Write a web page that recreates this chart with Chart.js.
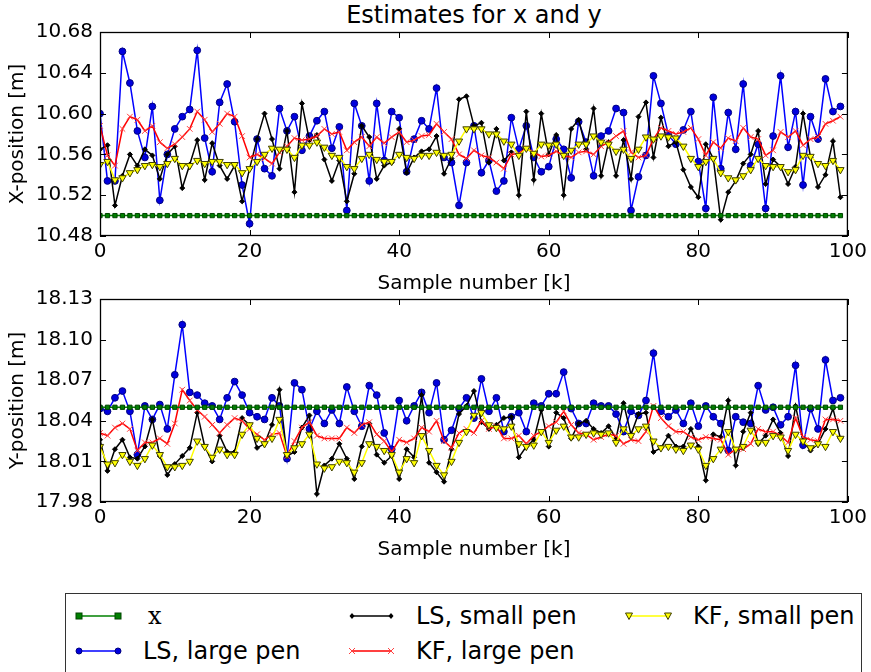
<!DOCTYPE html>
<html>
<head>
<meta charset="utf-8">
<script src="https://cdn.jsdelivr.net/npm/chart.js@4.4.0/dist/chart.umd.min.js"></script>
<style>
  body { margin: 0; background: #fff; width: 871px; height: 672px; overflow: hidden; position: relative; font-family: "DejaVu Sans", sans-serif; }
  canvas { position: absolute; left: 0; }
  #title { position: absolute; top: 3px; left: 100px; width: 748px; text-align: center; font-size: 24px; line-height: 24px; color: #000; }
  #legend { position: absolute; left: 65px; top: 593px; width: 797px; height: 100px; border: 1px solid #333; box-sizing: border-box; }
  .item { position: absolute; font-size: 24px; line-height: 24px; white-space: nowrap; }
  .item svg { position: absolute; }
</style>
</head>
<body>
<div id="title">Estimates for x and y</div>
<canvas id="chartX" width="871" height="294" style="top:0"></canvas>
<canvas id="chartY" width="871" height="290" style="top:270px"></canvas>
<div id="legend"></div>
<script>
const samples = [0,1,2,3,4,5,6,7,8,9,10,11,12,13,14,15,16,17,18,19,20,21,22,23,24,25,26,27,28,29,30,31,32,33,34,35,36,37,38,39,40,41,42,43,44,45,46,47,48,49,50,51,52,53,54,55,56,57,58,59,60,61,62,63,64,65,66,67,68,69,70,71,72,73,74,75,76,77,78,79,80,81,82,83,84,85,86,87,88,89,90,91,92,93,94,95,96,97,98,99];
const trueX = 10.50;
const trueY = 18.05;

// x estimates
const lsLargeX = [10.600,10.534,10.534,10.661,10.630,10.583,10.557,10.607,10.515,10.560,10.585,10.597,10.604,10.662,10.576,10.543,10.611,10.629,10.592,10.530,10.492,10.575,10.546,10.539,10.605,10.583,10.597,10.564,10.578,10.593,10.602,10.566,10.587,10.505,10.610,10.588,10.534,10.610,10.554,10.602,10.596,10.543,10.575,10.593,10.585,10.625,10.557,10.552,10.510,10.552,10.588,10.542,10.554,10.524,10.534,10.596,10.565,10.588,10.557,10.543,10.548,10.575,10.565,10.537,10.592,10.572,10.539,10.578,10.583,10.605,10.601,10.505,10.538,10.559,10.637,10.610,10.579,10.570,10.584,10.602,10.553,10.507,10.616,10.546,10.601,10.565,10.629,10.549,10.570,10.507,10.578,10.637,10.567,10.602,10.530,10.597,10.575,10.634,10.602,10.607];
const lsSmallX = [10.565,10.569,10.510,10.539,10.560,10.549,10.565,10.559,10.536,10.560,10.568,10.527,10.550,10.574,10.535,10.571,10.549,10.536,10.549,10.514,10.546,10.575,10.600,10.575,10.546,10.583,10.523,10.610,10.574,10.579,10.555,10.534,10.554,10.514,10.541,10.588,10.577,10.536,10.549,10.552,10.585,10.542,10.557,10.563,10.565,10.578,10.541,10.556,10.614,10.617,10.588,10.591,10.552,10.585,10.554,10.562,10.520,10.602,10.535,10.600,10.560,10.579,10.520,10.585,10.594,10.565,10.605,10.539,10.572,10.539,10.574,10.536,10.597,10.611,10.557,10.596,10.568,10.572,10.545,10.528,10.518,10.570,10.556,10.496,10.523,10.534,10.551,10.560,10.583,10.531,10.555,10.548,10.531,10.548,10.600,10.557,10.528,10.540,10.573,10.518];
const kfLargeX = [10.588,10.559,10.549,10.585,10.597,10.594,10.583,10.588,10.572,10.566,10.570,10.577,10.585,10.602,10.594,10.582,10.590,10.600,10.597,10.578,10.557,10.560,10.556,10.551,10.562,10.568,10.576,10.574,10.575,10.578,10.585,10.580,10.582,10.564,10.572,10.577,10.568,10.577,10.571,10.577,10.582,10.572,10.574,10.578,10.579,10.590,10.582,10.575,10.560,10.556,10.564,10.559,10.557,10.552,10.546,10.560,10.561,10.566,10.562,10.558,10.559,10.563,10.559,10.557,10.562,10.563,10.560,10.568,10.572,10.578,10.583,10.562,10.557,10.559,10.575,10.586,10.583,10.580,10.582,10.586,10.575,10.559,10.572,10.566,10.576,10.573,10.586,10.577,10.575,10.559,10.564,10.582,10.577,10.583,10.569,10.575,10.577,10.590,10.593,10.597];
const kfSmallX = [10.550,10.553,10.535,10.537,10.542,10.545,10.549,10.550,10.548,10.551,10.556,10.549,10.549,10.554,10.551,10.553,10.553,10.550,10.550,10.542,10.546,10.553,10.560,10.566,10.565,10.565,10.557,10.569,10.569,10.572,10.567,10.559,10.557,10.548,10.546,10.556,10.560,10.555,10.553,10.553,10.560,10.557,10.556,10.559,10.559,10.562,10.559,10.560,10.573,10.585,10.585,10.585,10.580,10.580,10.573,10.570,10.559,10.566,10.561,10.570,10.569,10.570,10.559,10.564,10.570,10.570,10.578,10.572,10.570,10.563,10.565,10.556,10.565,10.577,10.575,10.578,10.577,10.576,10.568,10.556,10.548,10.553,10.556,10.542,10.537,10.535,10.539,10.545,10.556,10.549,10.548,10.548,10.543,10.545,10.559,10.558,10.551,10.549,10.554,10.545];

// y estimates
const lsLargeY = [18.049,18.047,18.057,18.062,18.047,18.015,18.051,18.041,18.052,18.034,18.074,18.111,18.061,18.059,18.053,18.051,18.041,18.057,18.069,18.059,18.046,18.043,18.041,18.057,18.051,18.012,18.068,18.063,18.034,18.047,18.038,18.048,18.038,18.065,18.047,18.036,18.066,18.059,18.031,18.019,18.055,18.040,18.051,18.061,18.046,18.068,18.026,18.033,18.049,18.057,18.042,18.071,18.047,18.057,18.032,18.043,18.046,18.032,18.053,18.051,18.060,18.060,18.076,18.049,18.038,18.038,18.053,18.051,18.051,18.045,18.032,18.047,18.044,18.055,18.090,18.047,18.043,18.048,18.038,18.053,18.036,18.051,18.043,18.038,18.018,18.043,18.039,18.038,18.066,18.048,18.050,18.037,18.043,18.081,18.022,18.049,18.034,18.085,18.055,18.057];
const lsSmallY = [18.026,18.003,18.019,18.026,18.013,18.012,18.021,18.041,18.014,18.000,18.008,18.014,18.020,18.046,18.021,18.010,18.029,18.017,18.017,18.042,18.037,18.020,18.023,18.037,18.063,18.014,18.017,18.035,18.044,17.986,18.007,18.012,18.023,18.012,17.997,18.021,18.038,18.015,18.009,18.014,17.997,18.019,18.013,18.059,18.009,18.002,17.995,18.019,18.045,18.051,18.062,18.039,18.034,18.037,18.042,18.043,18.013,18.021,18.026,18.048,18.021,18.046,18.042,18.027,18.038,18.040,18.034,18.031,18.036,18.027,18.053,18.030,18.045,18.046,18.017,18.020,18.029,18.021,18.021,18.034,18.021,17.996,18.030,18.028,18.055,18.007,18.032,18.046,18.023,18.029,18.041,18.031,18.014,18.051,18.025,18.018,18.023,18.034,18.049,18.027];
const kfLargeY = [18.031,18.029,18.035,18.038,18.034,18.018,18.024,18.024,18.027,18.023,18.038,18.063,18.055,18.048,18.043,18.037,18.031,18.037,18.042,18.040,18.034,18.030,18.026,18.030,18.031,18.014,18.025,18.035,18.039,18.029,18.027,18.027,18.027,18.035,18.031,18.037,18.039,18.030,18.025,18.017,18.026,18.024,18.027,18.035,18.032,18.040,18.025,18.020,18.031,18.034,18.031,18.040,18.034,18.036,18.027,18.027,18.029,18.023,18.029,18.032,18.036,18.039,18.047,18.037,18.031,18.030,18.026,18.028,18.030,18.029,18.023,18.026,18.025,18.032,18.051,18.042,18.036,18.032,18.032,18.028,18.026,18.028,18.027,18.026,18.015,18.019,18.019,18.023,18.034,18.032,18.032,18.029,18.024,18.042,18.028,18.026,18.025,18.041,18.041,18.040];
const kfSmallY = [18.021,18.008,18.009,18.015,18.010,18.007,18.012,18.022,18.015,18.006,18.006,18.007,18.010,18.025,18.021,18.013,18.019,18.015,18.015,18.030,18.037,18.027,18.023,18.027,18.041,18.015,18.020,18.023,18.030,18.008,18.005,18.006,18.010,18.009,18.002,18.009,18.023,18.021,18.018,18.015,18.002,18.012,18.009,18.029,18.018,18.007,18.000,18.010,18.024,18.032,18.044,18.046,18.037,18.035,18.034,18.036,18.023,18.021,18.022,18.032,18.024,18.033,18.036,18.028,18.028,18.030,18.031,18.030,18.031,18.024,18.034,18.029,18.034,18.036,18.025,18.020,18.021,18.019,18.018,18.022,18.019,18.007,18.012,18.019,18.032,18.019,18.021,18.033,18.024,18.024,18.029,18.028,18.018,18.030,18.025,18.020,18.023,18.021,18.032,18.027];

const font = 'DejaVu Sans';

// frame with inward ticks on all four sides, like the matplotlib axes
const frame = {
  id: 'frame',
  afterDraw(chart) {
    const { ctx, chartArea: a, scales } = chart;
    ctx.save();
    ctx.strokeStyle = '#000';
    ctx.lineWidth = 1;
    ctx.beginPath();
    scales.x.ticks.forEach(t => {
      const px = Math.round(scales.x.getPixelForValue(t.value)) + 0.5;
      ctx.moveTo(px, a.top); ctx.lineTo(px, a.top + 6);
      ctx.moveTo(px, a.bottom); ctx.lineTo(px, a.bottom - 6);
    });
    scales.y.ticks.forEach(t => {
      const py = Math.round(scales.y.getPixelForValue(t.value)) + 0.5;
      ctx.moveTo(a.left, py); ctx.lineTo(a.left + 6, py);
      ctx.moveTo(a.right, py); ctx.lineTo(a.right - 6, py);
    });
    ctx.stroke();
    ctx.lineWidth = 1.3;
    ctx.strokeRect(a.left + 0.5, a.top + 0.5, a.right - a.left - 1, a.bottom - a.top - 1);
    ctx.restore();
  }
};

function pts(values) {
  return samples.map((k, i) => ({ x: k, y: values[i] }));
}

function makeChart(id, truth, lsLarge, lsSmall, kfLarge, kfSmall, yMin, yMax, yStep, yTitle, padTop, xHeight) {
  const base = { borderWidth: 1.5, tension: 0, fill: false };
  return new Chart(document.getElementById(id), {
    type: 'line',
    data: {
      datasets: [
        { ...base, label: 'x', data: samples.map(k => ({ x: k, y: truth })), borderColor: '#008000',
          pointStyle: 'rect', pointRadius: 3, pointBackgroundColor: '#008000', pointBorderColor: '#004400', pointBorderWidth: 1, order: 0 },
        { ...base, label: 'LS, large pen', data: pts(lsLarge), borderColor: '#0000ff',
          pointStyle: 'circle', pointRadius: 3.4, pointBackgroundColor: '#0000dd', pointBorderColor: '#000080', pointBorderWidth: 1, order: 4 },
        { ...base, label: 'LS, small pen', data: pts(lsSmall), borderColor: '#000000',
          pointStyle: 'rectRot', pointRadius: 2.5, pointBackgroundColor: '#000', pointBorderColor: '#000', pointBorderWidth: 1, order: 3 },
        { ...base, label: 'KF, large pen', data: pts(kfLarge), borderColor: '#ff0000',
          pointStyle: 'crossRot', pointRadius: 4, pointBorderColor: '#ff4040', pointBorderWidth: 1, order: 2 },
        { ...base, label: 'KF, small pen', data: pts(kfSmall), borderColor: '#ffff00',
          pointStyle: 'triangle', pointRotation: 180, pointRadius: 4.2, pointBackgroundColor: '#ffff00', pointBorderColor: '#404000', pointBorderWidth: 1, order: 1 }
      ]
    },
    options: {
      responsive: false,
      animation: false,
      layout: { padding: { left: 0, top: padTop, right: 23, bottom: 0 } },
      plugins: { legend: { display: false }, tooltip: { enabled: false } },
      scales: {
        x: {
          type: 'linear', min: 0, max: 100,
          grid: { display: false, drawTicks: false },
          border: { display: false },
          ticks: { stepSize: 20, padding: 4, color: '#000', font: { family: font, size: 20 }, maxRotation: 0 },
          title: { display: true, text: 'Sample number [k]', color: '#000', font: { family: font, size: 20, lineHeight: 1 }, padding: 0 },
          afterFit(s) { s.height = xHeight; }
        },
        y: {
          min: yMin, max: yMax,
          grid: { display: false, drawTicks: false },
          border: { display: false },
          ticks: { stepSize: yStep, padding: 7, color: '#000', font: { family: font, size: 20 },
            callback: v => v.toFixed(2) },
          title: { display: true, text: yTitle, color: '#000', font: { family: font, size: 20, lineHeight: 1 }, padding: { top: 8, bottom: 0 } },
          afterFit(s) { s.width = 100; }
        }
      }
    },
    plugins: [frame]
  });
}

makeChart('chartX', trueX, lsLargeX, lsSmallX, kfLargeX, kfSmallX, 10.48, 10.68, 0.04, 'X-position [m]', 32, 58);
makeChart('chartY', trueY, lsLargeY, lsSmallY, kfLargeY, kfSmallY, 17.98, 18.13, 0.03, 'Y-position [m]', 29, 58);

// legend, laid out in columns like the matplotlib one
const legendItems = [
  { text: 'x', serif: true, left: 8, top: 10, line: '#008000', mk: 'rect', fill: '#008000', edge: '#004400' },
  { text: 'LS, large pen', left: 8, top: 45, line: '#0000ff', mk: 'circle', fill: '#0000dd', edge: '#000080' },
  { text: 'LS, small pen', left: 281, top: 10, line: '#000000', mk: 'diamond', fill: '#000', edge: '#000' },
  { text: 'KF, large pen', left: 281, top: 45, line: '#ff0000', mk: 'cross', fill: 'none', edge: '#ff4040' },
  { text: 'KF, small pen', left: 558, top: 10, line: '#ffff00', mk: 'tri', fill: '#ffff00', edge: '#404000' }
];
function marker(m, cx, cy) {
  if (m.mk === 'rect') return `<rect x="${cx - 3}" y="${cy - 3}" width="6" height="6" fill="${m.fill}" stroke="${m.edge}"/>`;
  if (m.mk === 'circle') return `<circle cx="${cx}" cy="${cy}" r="3" fill="${m.fill}" stroke="${m.edge}"/>`;
  if (m.mk === 'diamond') return `<path d="M${cx} ${cy - 3}L${cx + 2.5} ${cy}L${cx} ${cy + 3}L${cx - 2.5} ${cy}Z" fill="#000"/>`;
  if (m.mk === 'cross') return `<path d="M${cx - 3} ${cy - 3}L${cx + 3} ${cy + 3}M${cx - 3} ${cy + 3}L${cx + 3} ${cy - 3}" stroke="${m.edge}"/>`;
  return `<path d="M${cx - 3.5} ${cy - 3}L${cx + 3.5} ${cy - 3}L${cx} ${cy + 3.5}Z" fill="${m.fill}" stroke="${m.edge}"/>`;
}
const legend = document.getElementById('legend');
legendItems.forEach(m => {
  const div = document.createElement('div');
  div.className = 'item';
  div.style.left = m.left + 'px';
  div.style.top = m.top + 'px';
  const svg = `<svg width="50" height="24" style="left:0;top:0">` +
    `<line x1="5" y1="12" x2="44" y2="12" stroke="${m.line}" stroke-width="1.5"/>` +
    marker(m, 5, 12) + marker(m, 44, 12) + `</svg>`;
  div.innerHTML = svg + `<span style="position:absolute;left:${m.serif ? 74 : 69}px;top:0;${m.serif ? 'font-family:DejaVu Serif;' : ''}">${m.text}</span>`;
  legend.appendChild(div);
});
</script>
</body>
</html>
